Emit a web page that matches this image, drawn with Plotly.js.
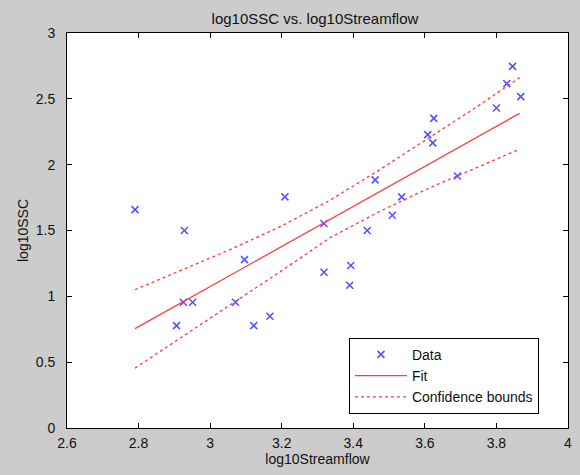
<!DOCTYPE html>
<html><head><meta charset="utf-8">
<script src="https://cdn.plot.ly/plotly-3.0.1.min.js"></script>
<style>html,body{margin:0;padding:0;background:#cccccc;}</style>
</head><body>
<div id="chart" style="width:580px;height:475px;"></div>
<script>
// Observed data
const dataX = [2.790, 2.906, 2.925, 2.928, 2.951, 3.071, 3.096, 3.122, 3.167, 3.209, 3.318, 3.318, 3.390, 3.393, 3.439, 3.461, 3.509, 3.535, 3.608, 3.622, 3.625, 3.691, 3.800, 3.829, 3.845, 3.868];
const dataY = [1.659, 0.778, 0.955, 1.500, 0.955, 0.955, 1.279, 0.778, 0.849, 1.755, 1.553, 1.183, 1.084, 1.234, 1.500, 1.884, 1.616, 1.755, 2.228, 2.165, 2.352, 1.914, 2.430, 2.616, 2.747, 2.517];
// Fit line
const fitX = [2.79, 3.865];
const fitY = [0.755, 2.39];
// Confidence bounds
const boundX = [2.79, 2.92, 3.056, 3.2, 3.335, 3.47, 3.614, 3.74, 3.865];
const upperY = [1.05, 1.20, 1.355, 1.535, 1.73, 1.955, 2.208, 2.43, 2.661];
const lowerY = [0.455, 0.69, 0.93, 1.195, 1.445, 1.64, 1.825, 1.97, 2.118];
// Axis ticks
const xTicks = [2.6, 2.8, 3, 3.2, 3.4, 3.6, 3.8, 4];
const yTicks = [0, 0.5, 1, 1.5, 2, 2.5, 3];

const FONT = '"Liberation Sans", Arial, sans-serif';
const traces = [
  {x: dataX, y: dataY, mode: 'markers', type: 'scatter', name: 'Data',
   marker: {symbol: 'x-thin', size: 7, color: '#5555ff', line: {color: '#5555ff', width: 1.6}}},
  {x: fitX, y: fitY, mode: 'lines', type: 'scatter', name: 'Fit',
   line: {color: '#ff3b3b', width: 1.3}},
  {x: boundX, y: upperY, mode: 'lines', type: 'scatter', name: 'Confidence bounds',
   legendgroup: 'cb', line: {color: '#ff3b3b', width: 1.3, dash: '3px,3px'}},
  {x: boundX, y: lowerY, mode: 'lines', type: 'scatter', name: 'Confidence bounds',
   legendgroup: 'cb', showlegend: false, line: {color: '#ff3b3b', width: 1.3, dash: '3px,3px'}}
];
const axisCommon = {
  showgrid: false, zeroline: false, showline: true, linecolor: '#000', linewidth: 1,
  mirror: 'ticks', ticks: 'inside', ticklen: 5, tickcolor: '#000', tickwidth: 1,
  tickfont: {family: FONT, size: 14, color: '#111'}
};
const layout = {
  width: 580, height: 475,
  paper_bgcolor: '#cccccc', plot_bgcolor: '#ffffff',
  margin: {l: 67, r: 12, t: 33, b: 47},
  font: {family: FONT, color: '#111'},
  title: {text: 'log10SSC vs. log10Streamflow', font: {family: FONT, size: 15, color: '#111'},
          x: 0.543, xanchor: 'center', y: 0.96, yanchor: 'middle', yref: 'container'},
  xaxis: Object.assign({}, axisCommon, {range: [2.6, 4], tickvals: xTicks, ticktext: xTicks.map(String),
          ticklabelstandoff: 2,
          title: {text: 'log10Streamflow', font: {family: FONT, size: 14, color: '#111'}, standoff: 4}}),
  yaxis: Object.assign({}, axisCommon, {range: [0, 3], tickvals: yTicks, ticktext: yTicks.map(String),
          ticklabelstandoff: 8,
          title: {text: 'log10SSC', font: {family: FONT, size: 14, color: '#111'}, standoff: 3}}),
  showlegend: true,
  legend: {x: 0.942, xanchor: 'right', y: 0.036, yanchor: 'bottom',
           bgcolor: '#ffffff', bordercolor: '#000', borderwidth: 1, itemwidth: 52,
           font: {family: FONT, size: 14, color: '#111'}, tracegroupgap: 0}
};
Plotly.newPlot('chart', traces, layout, {displayModeBar: false, staticPlot: true});
</script>
</body></html>
